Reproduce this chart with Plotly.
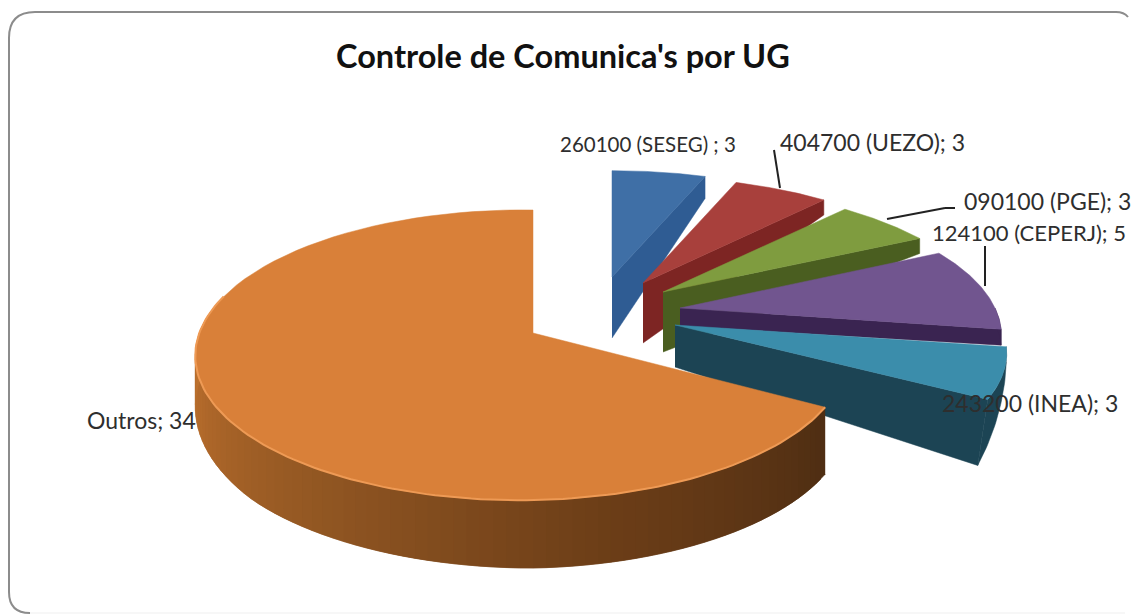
import numpy as np
import plotly.graph_objects as go

# chart data
labels = ["260100 (SESEG) ; 3", "404700 (UEZO); 3", "090100 (PGE); 3",
          "124100 (CEPERJ); 5", "243200 (INEA); 3", "Outros; 34"]
values = [3, 3, 3, 5, 3, 34]
title_text = "Controle de Comunica's por UG"

# look of each slice: top colour, side colour
top_colors = ["#3F6FA6", "#A8403C", "#7F9C3F", "#71558F", "#3B8DAB", "#D98039"]
side_colors = ["#2F5C93", "#7D2523", "#4A5E20", "#3A2451", "#1C4454", "#7F4A1E"]

# where each exploded slice sits on the page and how the 3D view squeezes it
apex = [(612, 277), (643, 283), (663, 292), (680, 308), (675, 325), (533, 333)]
view = [(320, 134, 0.26, 0), (320, 134, 0.26, 0), (320, 134, 0.26, 0),
        (315, 134, 0.2, 0), (325, 134, 0.2, 0), (322, 141.7, 0.152, 0.035)]
apex_thick = [61, 60, 60, 18, 42, 0]
outer_thick = [22, 15, 15, 16, 66, 67]
tip_shift = [0, 0, 0, 0, -10, 0]

# orange wall shade, from the cut edge round to the far left
wall_stops = [(120, "#4F2E13"), (170, "#6E3F18"), (210, "#8F5522"), (250, "#B26A2B"), (285, "#C87A33")]
outros_thick = [(120, 67), (180, 68), (230, 62), (270, 48), (285, 30)]


def project(i, theta):
    rx, a, b, c = view[i]
    u = np.sin(np.radians(theta))
    v = np.cos(np.radians(theta))
    d = 1 + b * v + c * u
    return apex[i][0] + rx * u / d, apex[i][1] - a * v / d


def hex_rgb(h):
    return np.array([int(h[k:k + 2], 16) for k in (1, 3, 5)], dtype=float)


def wall_color(theta):
    xs = [s[0] for s in wall_stops]
    rgb = [np.interp(theta, xs, [hex_rgb(s[1])[k] for s in wall_stops]) for k in range(3)]
    return "rgb(%d,%d,%d)" % tuple(rgb)


def poly(fig, xs, ys, color):
    fig.add_trace(go.Scatter(x=list(xs), y=list(ys), mode="lines", fill="toself",
                             fillcolor=color, line=dict(color=color, width=0.5),
                             hoverinfo="skip", showlegend=False))


fig = go.Figure()

edges = np.cumsum([0] + values) / sum(values) * 360

for i in range(len(values)):
    start, end = edges[i], edges[i + 1]
    ax, ay = apex[i]
    thetas = np.linspace(start, end, 80)
    ox, oy = project(i, thetas)

    if i < 5:
        # radial face on the clockwise side of the slice
        ex, ey = project(i, end)
        poly(fig, [ax, ex, ex + tip_shift[i], ax], [ay, ey, ey + outer_thick[i], ay + apex_thick[i]], side_colors[i])
        # wall along the rim, only where it turns towards us
        if end > 90:
            th = np.linspace(max(start, 90), end, 30)
            wx, wy = project(i, th)
            wall = np.interp(th, [max(start, 90), end], [outer_thick[3], outer_thick[i]])
            shift = np.interp(th, [max(start, 90), end], [0, tip_shift[i]])
            poly(fig, np.r_[wx, (wx + shift)[::-1]], np.r_[wy, (wy + wall)[::-1]], side_colors[i])
    else:
        # wall of the big slice, cut in overlapping strips for the gradient
        th = np.arange(start, 286, 2.0)
        wx, wy = project(i, th)
        wall = np.interp(th, [s[0] for s in outros_thick], [s[1] for s in outros_thick])
        for k in range(len(th) - 2):
            poly(fig, [wx[k], wx[k + 2], wx[k + 2], wx[k]],
                 [wy[k], wy[k + 2], wy[k + 2] + wall[k + 2], wy[k] + wall[k]],
                 wall_color(th[k]))

    poly(fig, np.r_[ax, ox, ax], np.r_[ay, oy, ay], top_colors[i])

    # lighter bevel on the rim
    if i == 5:
        th = np.linspace(start, 285, 120)
        rx_, ry_ = project(i, th)
        fig.add_trace(go.Scatter(x=rx_, y=ry_, mode="lines", line=dict(color="#EE9A55", width=2),
                                 hoverinfo="skip", showlegend=False))

# leader lines
leaders = [((774, 150), (780, 188)), ((955, 208), (945, 208)), ((945, 208), (887, 219)), ((985, 246), (985, 286))]
shapes = [dict(type="line", x0=p[0], y0=p[1], x1=q[0], y1=q[1], line=dict(color="#222222", width=2))
          for p, q in leaders]

# chart frame: the right and bottom sides fade out in the screenshot
shapes.append(dict(type="path",
                   path="M 1128 17 Q 1124 12 1116 12 L 35 12 Q 9 12 9 38 L 9 592 Q 9 613 30 613",
                   line=dict(color="#8C8C8C", width=2), fillcolor="rgba(0,0,0,0)"))
shapes.append(dict(type="line", x0=30, y0=613, x1=1125, y1=613, line=dict(color="#EFEFEF", width=1)))

label_pos = [(558, 144), (778, 142), (962, 201), (930, 232), (940, 403), (85, 420)]
label_size = [20.5, 23, 23, 22, 23, 23]
annotations = [dict(x=p[0], y=p[1], text=t, xanchor="left", yanchor="middle", showarrow=False,
                    font=dict(family="Lato", size=s, color="#2E2E2E"))
               for t, p, s in zip(labels, label_pos, label_size)]
annotations.append(dict(x=563, y=55, text="<b>" + title_text + "</b>", xanchor="center", yanchor="middle",
                        showarrow=False, font=dict(family="Lato", size=32.5, color="#111111")))

fig.update_layout(
    width=1131,
    height=614,
    margin=dict(l=0, r=0, t=0, b=0),
    paper_bgcolor="white",
    plot_bgcolor="white",
    showlegend=False,
    shapes=shapes,
    annotations=annotations,
    xaxis=dict(range=[0, 1131], visible=False, fixedrange=True),
    yaxis=dict(range=[614, 0], visible=False, fixedrange=True),
)

fig.write_html("out.html", config={"displayModeBar": False},
               post_script="document.body.style.margin='0';document.body.style.overflow='hidden';")
